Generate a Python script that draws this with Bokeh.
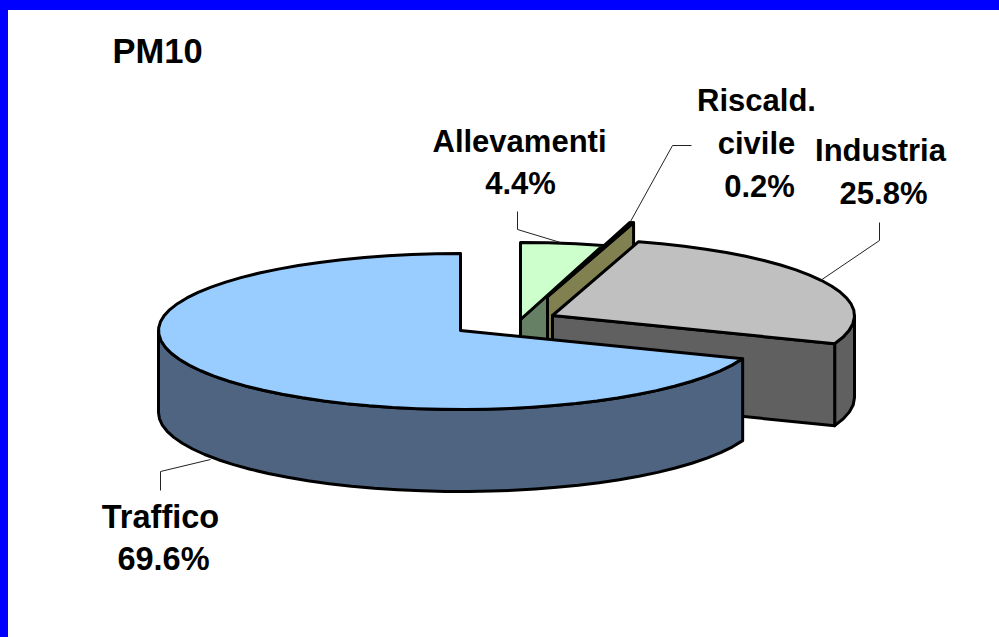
import numpy as np
from bokeh.plotting import figure
from bokeh.models import Range1d
from bokeh.core.properties import value
from bokeh.embed import file_html
from bokeh.resources import INLINE

title = "PM10"
categories = ["Allevamenti", "Riscald.\ncivile", "Industria", "Traffico"]
shares = [4.4, 0.2, 25.8, 69.6]
top_colors = ["#CCFFCC", "#FFFF99", "#C0C0C0", "#99CCFF"]
side_colors = ["#668066", "#808050", "#606060", "#4F6480"]

# layout (page pixels)
centers = [(520, 319), (547, 296), (552, 315), (460, 330)]
RX, RY_BACK, RY_FRONT, DEPTH = 302, 77, 79, 82
label_xy = [(519, 141), (756, 100), (880, 150), (160, 516)]
value_xy = [(520, 183), (759, 186), (883, 193), (163, 558)]
label_px = [31, 31, 31, 32.5]
value_px = [31, 31, 31, 32.5]
leaders = [
    ([517, 517, 560], [211, 229, 242]),
    ([691, 672, 630], [145, 145, 221]),
    ([879, 879, 820], [222, 240, 280]),
    ([160, 160, 210], [490, 471, 459]),
]

FONT = value("Liberation Sans")
p = figure(width=983, height=619, output_backend="svg", toolbar_location=None,
           x_axis_type=None, y_axis_type=None,
           x_range=Range1d(8, 991), y_range=Range1d(629, 10), min_border=0,
           outline_line_color=None, background_fill_color="white",
           border_fill_color="white")
p.grid.visible = False


def warp(t):
    # small perspective pull in the lower-right quadrant of the disc
    return t + 0.04 * np.where((t > np.pi / 2) & (t < np.pi), -np.sin(2 * t), 0.0)


def rim(c, t0, t1, n=None):
    n = n or max(2, int(abs(t1 - t0) / 0.08) + 1)
    t = warp(np.linspace(t0, t1, n))
    ry = np.where(np.cos(t) < 0, RY_FRONT, RY_BACK)
    return c[0] + RX * np.sin(t), c[1] - ry * np.cos(t)


def draw(xs, ys, color):
    p.patch(list(xs), list(ys), fill_color=color, line_color="black",
            line_width=3, line_join="round")


def cut_face(c, t, color):
    ox, oy = rim(c, t, t, 2)
    ox, oy = ox[0], oy[0]
    draw([c[0], ox, ox, c[0]], [c[1], oy, oy + DEPTH, c[1] + DEPTH], color)


def outer_side(c, t0, t1, color):
    """front-facing part of the rim between t0 and t1"""
    a, b = max(t0, np.pi / 2), min(t1, 3 * np.pi / 2)
    if b <= a:
        return
    x, y = rim(c, a, b)
    draw(np.r_[x, x[::-1]], np.r_[y, y[::-1] + DEPTH], color)


def top_face(c, t0, t1, color):
    x, y = rim(c, t0, t1)
    draw(np.r_[c[0], x], np.r_[c[1], y], color)


ends = np.cumsum(shares) / 100 * 2 * np.pi
starts = np.r_[0, ends[:-1]]

for i in range(3):
    c = centers[i]
    if i < 2:
        cut_face(c, ends[i], side_colors[i])
        top_face(c, starts[i], ends[i], top_colors[i])
    else:
        outer_side(c, starts[i], ends[i], side_colors[i])
        cut_face(c, ends[i], side_colors[i])
        top_face(c, starts[i], ends[i], top_colors[i])
outer_side(centers[3], starts[3], ends[3], side_colors[3])
top_face(centers[3], starts[3], ends[3], top_colors[3])

for xs, ys in leaders:
    p.line(xs, ys, line_color="#222222", line_width=1)


def label(x, y, s, px):
    p.text([x], [y], text=[s], text_font=FONT, text_font_style="bold",
           text_font_size=f"{px}px", text_color="black",
           text_align="center", text_baseline="middle")


label(157, 50, title, 34.5)
for i, (cat, share) in enumerate(zip(categories, shares)):
    lx, ly = label_xy[i]
    for k, line in enumerate(cat.split("\n")):
        label(lx, ly + k * 43, line, label_px[i])
    label(value_xy[i][0], value_xy[i][1], f"{share:.1f}%", value_px[i])

html = file_html(p, INLINE)
css = ("<style>html{overflow:hidden;height:637px;"
       "background:linear-gradient(#0000FF 10px,transparent 10px),"
       "linear-gradient(90deg,#0000FF 8px,#FFFFFF 8px);}"
       "body{margin:10px 8px 8px 8px;background:transparent;}</style></head>")
html = html.replace("</head>", css, 1)
open("out.html", "w").write(html)
